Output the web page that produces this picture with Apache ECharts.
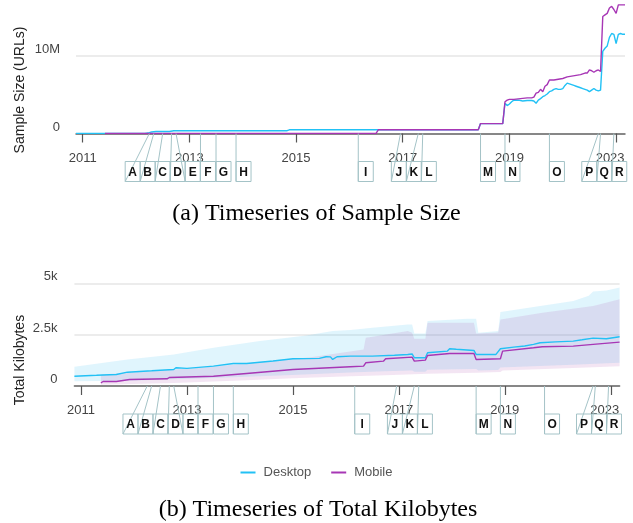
<!DOCTYPE html>
<html><head><meta charset="utf-8">
<script src="https://cdn.jsdelivr.net/npm/echarts@6/dist/echarts.min.js"></script>
<style>html,body{margin:0;padding:0;background:#fff}#c{width:633px;height:523px}</style>
</head><body><div id="c"></div>
<script>
// ---- categories: HTTP Archive crawl dates (twice monthly until 2018, monthly after) ----
const crawlDates = ['2010-11-15', '2010-12-01', '2010-12-15'];
for (let y = 2011; y <= 2018; y++) for (let m = 1; m <= 12; m++) {
  const mm = String(m).padStart(2, '0');
  crawlDates.push(`${y}-${mm}-01`, `${y}-${mm}-15`);
}
for (let y = 2019; y <= 2023; y++) for (let m = 1; m <= 12; m++) {
  if (y === 2023 && m > 5) break;
  crawlDates.push(`${y}-${String(m).padStart(2, '0')}-01`);
}

// ---- tick labels ----
const yearTickIndex = [3, 51, 99, 147, 195, 243];
const yearTickLabels = ['2011', '2013', '2015', '2017', '2019', '2023'];
const sizeTicks = [0, 10];
const sizeTickLabels = ['0', '10M'];
const kbTicks = [0, 2500, 5000];
const kbTickLabels = ['0', '2.5k', '5k'];

// ---- annotations ----
const eventLetters = ['A','B','C','D','E','F','G','H','I','J','K','L','M','N','O','P','Q','R'];
const eventIndex   = [33, 35, 39, 43, 45, 56, 63, 72, 127, 146, 154, 156, 182, 193, 213, 235, 236, 242];
const eventGroup   = [1, 1, 1, 1, 1, 2, 3, 4, 5, 6, 6, 6, 7, 8, 9, 10, 10, 10];

// ---- sample size (millions of URLs), [crawl index, value] ----
const sizeDesktop = [[0,0.02],[31,0.02],[33,0.12],[34,0.2],[36,0.25],[42,0.26],[44,0.36],[95,0.36],[96,0.48],[181,0.48],[182,1.28],[192,1.28],[193,3.9],[194,3.6],[195,3.8],[196,4.1],[197,4.3],[199,4.3],[201,4.2],[203,4.25],[205,4.25],[206,4.2],[207,3.9],[208,4.3],[209,4.5],[210,4.75],[211,4.9],[212,5.1],[213,5.4],[214,5.5],[215,5.7],[216,5.8],[217,5.7],[218,5.7],[219,5.8],[220,6.2],[221,6.5],[222,6.4],[223,6.3],[224,6.2],[225,6.1],[226,6.0],[227,5.9],[228,5.8],[229,5.7],[230,5.6],[231,5.4],[232,5.6],[233,5.8],[234,5.6],[235,5.5],[236,5.6],[237,10.6],[238,11.0],[239,11.3],[240,12.4],[241,12.9],[242,12.8],[243,11.6],[244,12.8],[245,12.9],[246,12.8],[247,12.8]];
const sizeMobile = [[13,0.005],[135,0.005],[136,0.48],[181,0.48],[182,1.28],[192,1.28],[193,4.1],[194,4.3],[195,4.4],[197,4.4],[200,4.5],[203,4.6],[205,4.6],[206,4.7],[207,5.2],[208,5.3],[209,5.7],[210,5.4],[211,6.1],[212,6.3],[213,6.9],[215,6.9],[217,7.0],[219,7.1],[221,7.3],[223,7.4],[225,7.5],[227,7.6],[229,7.8],[230,7.8],[231,8.2],[232,8.1],[233,7.9],[234,8.1],[235,8.2],[236,8.0],[237,15.1],[238,15.3],[239,15.5],[240,16.2],[241,16.4],[242,16.0],[243,15.5],[244,16.6],[245,16.6],[246,16.6],[247,16.6]];

// ---- total kilobytes, [crawl index, value] ----
const kbDesktop = [[0,478],[10,520],[19,561],[24,673],[35,740],[45,805],[46,888],[51,860],[63,966],[72,1098],[78,1098],[90,1220],[99,1327],[111,1347],[114,1425],[116,1420],[117,1293],[119,1425],[125,1454],[135,1454],[145,1500],[151,1537],[153,1560],[154,1376],[159,1376],[160,1620],[169,1700],[170,1815],[173,1790],[181,1732],[182,1537],[191,1537],[193,1815],[199,1893],[204,1950],[208,2025],[211,2108],[218,2150],[226,2186],[230,2250],[235,2333],[241,2303],[247,2400]];
const kbMobile = [[12,156],[13,220],[19,220],[25,317],[42,351],[43,415],[63,478],[78,610],[99,805],[125,937],[131,966],[132,1132],[140,1210],[141,1327],[153,1405],[154,1210],[159,1259],[160,1488],[170,1586],[181,1586],[182,1293],[193,1327],[194,1698],[208,1864],[212,1913],[226,1942],[235,2025],[247,2137]];
const kbDesktopUpper = [[0,937],[24,1293],[45,1537],[63,1864],[84,2186],[105,2464],[117,2674],[125,2723],[135,2840],[151,3000],[153,3000],[154,2562],[159,2562],[160,3162],[178,3279],[182,3279],[183,2596],[192,2674],[193,3601],[211,3894],[226,4138],[233,4400],[235,4597],[241,4650],[247,4792]];
const kbDesktopLower = [[0,234],[24,250],[45,330],[63,390],[78,450],[99,540],[125,660],[141,720],[153,760],[154,700],[159,700],[160,790],[182,830],[183,760],[192,780],[193,900],[211,980],[226,1040],[247,1132]];
const kbMobileUpper = [[12,561],[57,888],[107,1400],[131,1781],[132,2352],[135,2400],[151,2674],[153,2596],[154,2300],[159,2300],[160,3084],[181,3084],[182,2562],[192,2600],[193,3245],[212,3572],[235,3894],[247,4221]];
const kbMobileLower = [[12,60],[45,150],[78,280],[99,380],[125,470],[141,520],[160,600],[182,650],[193,680],[194,760],[226,880],[247,966]];

// ---- styling ----
const FONT = '"Liberation Sans", Arial, sans-serif';
const SERIF = '"Liberation Serif", "Times New Roman", serif';
const C_DESK = '#22c1f5', C_MOB = '#a736b5';
const C_ANN = '#a4c3c7';
const BOX_W = 15, BOX_TOP = 28, BOX_H = 20;

function layoutBoxes(xs) {
  const lefts = [];
  const groups = {};
  eventGroup.forEach((g, i) => { (groups[g] = groups[g] || []).push(i); });
  Object.values(groups).forEach(members => {
    if (members.length === 1) { lefts[members[0]] = xs[members[0]]; return; }
    const mean = members.reduce((s, i) => s + xs[i], 0) / members.length;
    const start = mean - members.length * BOX_W / 2;
    members.forEach((i, k) => { lefts[i] = start + k * BOX_W; });
  });
  return lefts;
}

function annotationSeries(axisIdx) {
  return {
    type: 'custom', xAxisIndex: axisIdx, yAxisIndex: axisIdx, clip: false, silent: true, z: 5,
    data: [[0, 0]],
    renderItem: (params, api) => {
      const axisY = api.coord([0, 0])[1];
      const xs = eventIndex.map(i => api.coord([i, 0])[0]);
      const lefts = layoutBoxes(xs);
      const children = [];
      eventLetters.forEach((t, k) => {
        const top = axisY + BOX_TOP, bottom = top + BOX_H;
        children.push({ type: 'line', shape: { x1: xs[k], y1: axisY, x2: lefts[k], y2: bottom },
          style: { stroke: C_ANN, lineWidth: 1 } });
        children.push({ type: 'rect', shape: { x: lefts[k], y: top, width: BOX_W, height: BOX_H },
          style: { fill: 'rgba(255,255,255,0)', stroke: C_ANN, lineWidth: 1 } });
        children.push({ type: 'text', style: { text: t, x: lefts[k] + BOX_W / 2, y: top + BOX_H / 2 + 1,
          align: 'center', verticalAlign: 'middle', font: 'bold 12px ' + FONT, fill: '#111' } });
      });
      return { type: 'group', children };
    }
  };
}

function bandSeries(upper, lower, color) {
  return {
    type: 'custom', xAxisIndex: 1, yAxisIndex: 1, silent: true, z: 1, data: [[0, 0]],
    renderItem: (params, api) => {
      const pts = upper.map(p => api.coord(p)).concat(lower.slice().reverse().map(p => api.coord(p)));
      return { type: 'polygon', shape: { points: pts }, style: { fill: color } };
    }
  };
}

function xAxis(g) {
  return {
    type: 'category', gridIndex: g, data: crawlDates, boundaryGap: false,
    axisLine: { lineStyle: { color: '#666', width: 1.5 } },
    axisTick: { interval: i => yearTickIndex.includes(i), length: 9, lineStyle: { color: '#555', width: 1.2 } },
    axisLabel: {
      interval: i => yearTickIndex.includes(i), margin: 18, color: '#444', fontSize: 13,
      formatter: (v, i) => {
        const k = yearTickIndex.indexOf(i);
        if (k < 0) return '';
        return k === yearTickIndex.length - 1 ? '{s|' + yearTickLabels[k] + '}' : yearTickLabels[k];
      },
      rich: { s: { padding: [0, 12, 0, 0], color: '#444', fontSize: 13, fontFamily: FONT } }
    },
    splitLine: { show: false }
  };
}

const chart = echarts.init(document.getElementById('c'), null, { renderer: 'canvas' });
chart.setOption({
  animation: false,
  textStyle: { fontFamily: FONT },
  grid: [
    { left: 76, right: 8, top: 1.75, height: 131.75 },
    { left: 74.4, right: 13.4, top: 270, height: 116 }
  ],
  xAxis: [xAxis(0), xAxis(1)],
  yAxis: [
    { type: 'value', gridIndex: 0, min: 0, max: 17, interval: 10,
      axisLine: { show: false }, axisTick: { show: false },
      axisLabel: { showMaxLabel: false, verticalAlign: 'bottom', margin: 16, color: '#444', fontSize: 13,
        formatter: v => { const k = sizeTicks.indexOf(v); return k < 0 ? '' : sizeTickLabels[k]; } },
      splitLine: { showMaxLine: false, lineStyle: { color: '#e6e6e6', width: 1.5 } } },
    { type: 'value', gridIndex: 1, min: 0, max: 5650, interval: 2500,
      axisLine: { show: false }, axisTick: { show: false },
      axisLabel: { showMaxLabel: false, verticalAlign: 'bottom', margin: 17, color: '#444', fontSize: 13,
        formatter: v => { const k = kbTicks.indexOf(v); return k < 0 ? '' : kbTickLabels[k]; } },
      splitLine: { showMaxLine: false, lineStyle: { color: '#e6e6e6', width: 1.5 } } }
  ],
  legend: {
    data: ['Desktop', 'Mobile'], left: 'center', top: 461, icon: 'rect', itemWidth: 15, itemHeight: 2, itemGap: 20,
    textStyle: { color: '#555', fontSize: 13, fontFamily: FONT, padding: [0, 0, 0, 3] }
  },
  series: [
    bandSeries(kbDesktopUpper, kbDesktopLower, 'rgba(0,176,240,0.12)'),
    bandSeries(kbMobileUpper, kbMobileLower, 'rgba(160,40,160,0.12)'),
    { name: 'Desktop', type: 'line', xAxisIndex: 0, yAxisIndex: 0, data: sizeDesktop, showSymbol: false, symbol: 'none',
      lineStyle: { color: C_DESK, width: 1.4 }, itemStyle: { color: C_DESK }, z: 2 },
    { name: 'Mobile', type: 'line', xAxisIndex: 0, yAxisIndex: 0, data: sizeMobile, showSymbol: false, symbol: 'none',
      lineStyle: { color: C_MOB, width: 1.4 }, itemStyle: { color: C_MOB }, z: 3 },
    { name: 'Desktop', type: 'line', xAxisIndex: 1, yAxisIndex: 1, data: kbDesktop, showSymbol: false, symbol: 'none',
      lineStyle: { color: C_DESK, width: 1.4 }, itemStyle: { color: C_DESK }, z: 2 },
    { name: 'Mobile', type: 'line', xAxisIndex: 1, yAxisIndex: 1, data: kbMobile, showSymbol: false, symbol: 'none',
      lineStyle: { color: C_MOB, width: 1.4 }, itemStyle: { color: C_MOB }, z: 3 },
    annotationSeries(0),
    annotationSeries(1)
  ],
  graphic: [
    { type: 'text', x: 20, y: 90, rotation: Math.PI / 2,
      style: { text: 'Sample Size (URLs)', align: 'center', verticalAlign: 'middle', font: '14px ' + FONT, fill: '#222' } },
    { type: 'text', x: 20, y: 360, rotation: Math.PI / 2,
      style: { text: 'Total Kilobytes', align: 'center', verticalAlign: 'middle', font: '14px ' + FONT, fill: '#222' } },
    { type: 'text', x: 316.5, y: 214,
      style: { text: '(a) Timeseries of Sample Size', align: 'center', verticalAlign: 'middle', font: '24px ' + SERIF, fill: '#000' } },
    { type: 'text', x: 318, y: 510,
      style: { text: '(b) Timeseries of Total Kilobytes', align: 'center', verticalAlign: 'middle', font: '24px ' + SERIF, fill: '#000' } }
  ]
});
</script>
</body></html>
